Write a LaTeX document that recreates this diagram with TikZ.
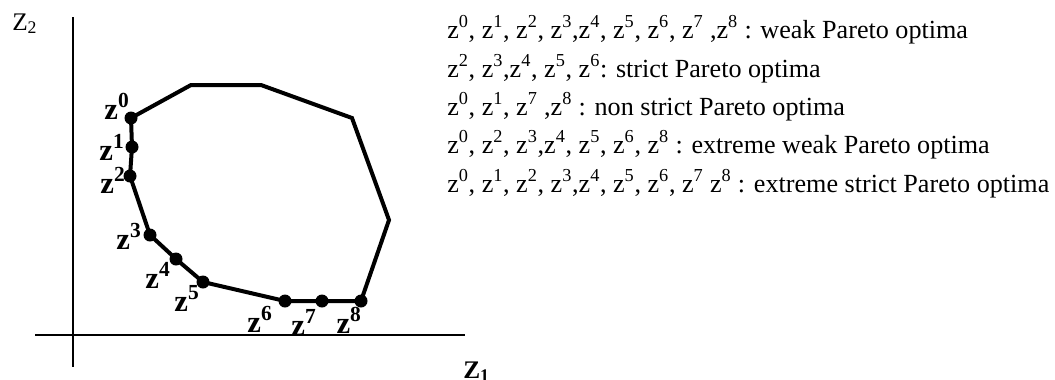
\documentclass[tikz,border=0pt]{standalone}
\usepackage{fontspec}
\setmainfont{Liberation Serif}
\newcommand{\zpt}[1]{z\textsuperscript{#1}}
\begin{document}
\begin{tikzpicture}[x=0.75pt,y=-0.75pt,
  axis/.style={line width=1pt},
  front/.style={line width=3pt,line join=miter},
  dot/.style={circle,fill=black,inner sep=0pt,minimum size=9.75pt},
  ptlabel/.style={font=\fontsize{23}{26}\selectfont\bfseries,inner sep=0pt},
  axlabel/.style={font=\fontsize{19}{22}\selectfont,inner sep=0pt},
  legend/.style={font=\fontsize{19.6}{22}\selectfont,anchor=base west,inner sep=0pt}]
\useasboundingbox (0,0) rectangle (1055,379);

% axes
\coordinate (o1) at (73,17);
\coordinate (o2) at (73,367);
\coordinate (h1) at (35,335);
\coordinate (h2) at (465,335);
\draw[axis] (o1) -- (o2);
\draw[axis] (h1) -- (h2);
\node[axlabel,anchor=base west] (lz2) at (12,30) {Z\textsubscript{2}};
\node[axlabel,anchor=base west,font=\fontsize{19}{22}\selectfont\bfseries] (lz1) at (463,378) {Z\textsubscript{1}};

% vertices of the feasible set in objective space
\coordinate (p0) at (131,118);
\coordinate (p1) at (132,147);
\coordinate (p2) at (130,176);
\coordinate (p3) at (150,235);
\coordinate (p4) at (176,259);
\coordinate (p5) at (203,282);
\coordinate (p6) at (285,301);
\coordinate (p7) at (322,301);
\coordinate (p8) at (361,301);
\coordinate (c1) at (191,85);
\coordinate (c2) at (261,85);
\coordinate (c3) at (352,118);
\coordinate (c4) at (389,220);

\draw[front] (p0) -- (c1) -- (c2) -- (c3) -- (c4) -- (p8) -- (p7) -- (p6)
  -- (p5) -- (p4) -- (p3) -- (p2) -- (p1) -- cycle;

% Pareto points
\foreach \i in {0,...,8} {\node[dot] (z\i) at (p\i) {};}

\node[ptlabel] (l0) at (117,106) {\zpt{0}};
\node[ptlabel] (l1) at (112,147) {\zpt{1}};
\node[ptlabel] (l2) at (113,180) {\zpt{2}};
\node[ptlabel] (l3) at (129,236) {\zpt{3}};
\node[ptlabel] (l4) at (158,275) {\zpt{4}};
\node[ptlabel] (l5) at (187,298) {\zpt{5}};
\node[ptlabel] (l6) at (260,319) {\zpt{6}};
\node[ptlabel] (l7) at (304,322) {\zpt{7}};
\node[ptlabel] (l8) at (349,320) {\zpt{8}};

% classification of the points
\node[legend] (t1) at (447,38) {\zpt{0}, \zpt{1}, \zpt{2}, \zpt{3},\zpt{4}, \zpt{5}, \zpt{6}, \zpt{7} ,\zpt{8} : weak Pareto optima};
\node[legend] (t2) at (447,77) {\zpt{2}, \zpt{3},\zpt{4}, \zpt{5}, \zpt{6}: strict Pareto optima};
\node[legend] (t3) at (447,115) {\zpt{0}, \zpt{1}, \zpt{7} ,\zpt{8} : non strict Pareto optima};
\node[legend] (t4) at (447,153) {\zpt{0}, \zpt{2}, \zpt{3},\zpt{4}, \zpt{5}, \zpt{6}, \zpt{8} : extreme weak Pareto optima};
\node[legend] (t5) at (447,192) {\zpt{0}, \zpt{1}, \zpt{2}, \zpt{3},\zpt{4}, \zpt{5}, \zpt{6}, \zpt{7} \zpt{8} : extreme strict Pareto optima};
\end{tikzpicture}
\end{document}
